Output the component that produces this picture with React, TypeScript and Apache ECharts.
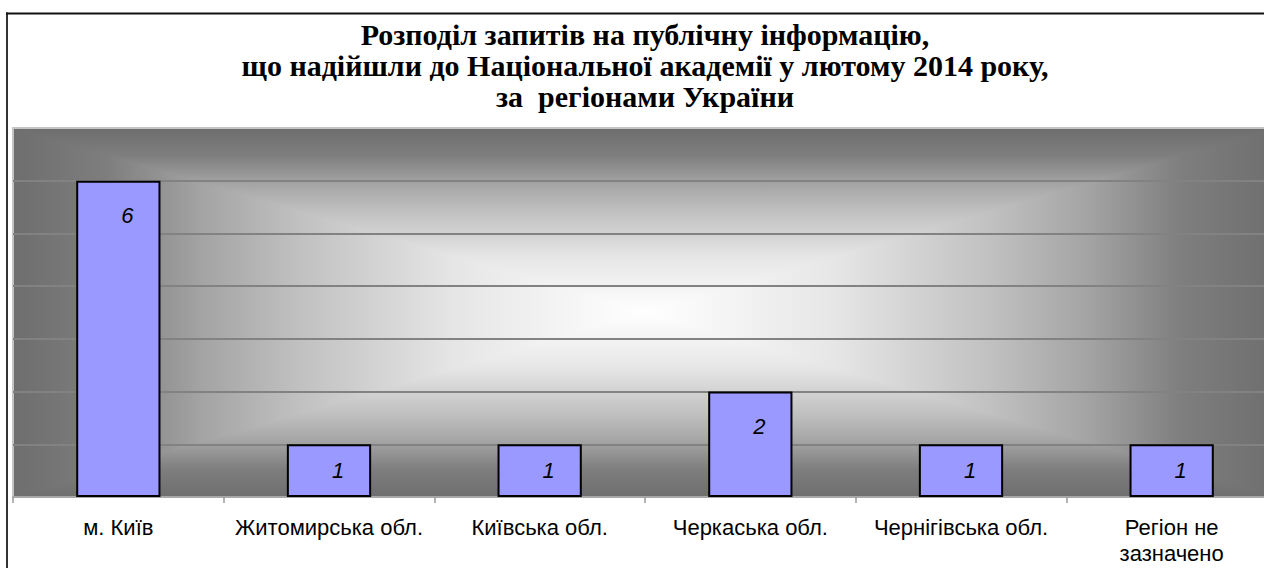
import React, { useEffect, useRef } from "react";
import * as echarts from "echarts";

const titleLines = [
  "Розподіл запитів на публічну інформацію,",
  "що надійшли до Національної академії у лютому 2014 року,",
  "за  регіонами України",
];
const categories = [
  "м. Київ",
  "Житомирська обл.",
  "Київська обл.",
  "Черкаська обл.",
  "Чернігівська обл.",
  "Регіон не\nзазначено",
];
const requestCounts = [6, 1, 1, 2, 1, 1];

const CHART_W = 1290;
const CHART_H = 568;
const PLOT = { left: 13, top: 128, right: 13, bottom: 71 };

export default function App() {
  const ref = useRef<HTMLDivElement>(null);

  useEffect(() => {
    document.body.style.margin = "0";
    document.body.style.overflow = "hidden";
    if (!ref.current) return;
    const chart = echarts.init(ref.current, undefined, { renderer: "svg" });
    const L = PLOT.left;
    const T = PLOT.top;
    const R = CHART_W - PLOT.right;
    const B = CHART_H - PLOT.bottom;
    const cx = (L + R) / 2;
    const cy = (T + B) / 2;
    const stops = [
      { offset: 0, color: "#6e6e6e" },
      { offset: 0.15, color: "#7e7e7e" },
      { offset: 0.3, color: "#a4a4a4" },
      { offset: 0.45, color: "#c0c0c0" },
      { offset: 0.7, color: "#e6e6e6" },
      { offset: 1, color: "#ffffff" },
    ];
    const grad = (x: number, y: number, x2: number, y2: number) => ({
      type: "linear",
      x,
      y,
      x2,
      y2,
      global: true,
      colorStops: stops,
    });
    const poly = (pts: number[][], fill: any, z: number) => ({
      type: "polygon",
      z,
      silent: true,
      shape: { points: pts },
      style: { fill },
    });

    chart.setOption({
      animation: false,
      backgroundColor: "#ffffff",
      title: {
        text: titleLines.join("\n"),
        left: 640,
        top: 14,
        textAlign: "center",
        textStyle: {
          fontFamily: "Liberation Serif",
          fontWeight: "bold",
          fontSize: 30,
          lineHeight: 31,
          color: "#000",
        },
      },
      graphic: [
        poly([[L, T], [cx + 1, T], [cx + 1, B], [L, B]], grad(L, 0, cx, 0), -12),
        poly([[cx - 1, T], [R, T], [R, B], [cx - 1, B]], grad(R, 0, cx, 0), -12),
        poly([[L, T], [R, T], [cx, cy]], grad(0, T, 0, cy), -10),
        poly([[L, B], [R, B], [cx, cy]], grad(0, B, 0, cy), -10),
        {
          type: "polyline",
          z: -5,
          silent: true,
          shape: { points: [[L, B], [L, T], [R, T]] },
          style: { fill: "none", stroke: "#c4c4c4", lineWidth: 2 },
        },
        {
          type: "line",
          z: 10,
          silent: true,
          shape: { x1: 7, y1: 12.5, x2: 7, y2: CHART_H + 10 },
          style: { stroke: "#333", lineWidth: 2 },
        },
        {
          type: "line",
          z: 10,
          silent: true,
          shape: { x1: 6, y1: 13.5, x2: CHART_W + 10, y2: 13.5 },
          style: { stroke: "#111", lineWidth: 2 },
        },
      ],
      grid: {
        left: PLOT.left,
        top: PLOT.top,
        right: PLOT.right,
        bottom: PLOT.bottom,
        containLabel: false,
      },
      xAxis: {
        type: "category",
        data: categories,
        axisLine: { lineStyle: { color: "#a8a8a8", width: 2 } },
        axisTick: { show: true, length: 6, lineStyle: { color: "#9a9a9a", width: 1.5 } },
        axisLabel: {
          interval: 0,
          margin: 17,
          fontFamily: "Liberation Sans",
          fontSize: 22,
          lineHeight: 26,
          color: "#000",
        },
      },
      yAxis: {
        type: "value",
        min: 0,
        max: 7,
        interval: 1,
        axisLabel: { show: false },
        axisLine: { show: false },
        axisTick: { show: false },
        splitLine: {
          show: true,
          showMinLine: false,
          showMaxLine: false,
          lineStyle: { color: "#828282", width: 2 },
        },
      },
      series: [
        {
          type: "bar",
          barWidth: "40%",
          data: requestCounts.map((v) => ({
            value: v,
            label: {
              position: v <= 1 ? "inside" : "insideTop",
            },
          })),
          itemStyle: { color: "#9999ff", borderColor: "#000", borderWidth: 2 },
          label: {
            show: true,
            distance: 24,
            offset: [9, 0],
            fontFamily: "Liberation Sans",
            fontStyle: "italic",
            fontSize: 22,
            color: "#000",
          },
        },
      ],
    });
    return () => chart.dispose();
  }, []);

  return (
    <div
      ref={ref}
      style={{ position: "fixed", left: 0, top: 0, width: CHART_W, height: CHART_H }}
    />
  );
}
